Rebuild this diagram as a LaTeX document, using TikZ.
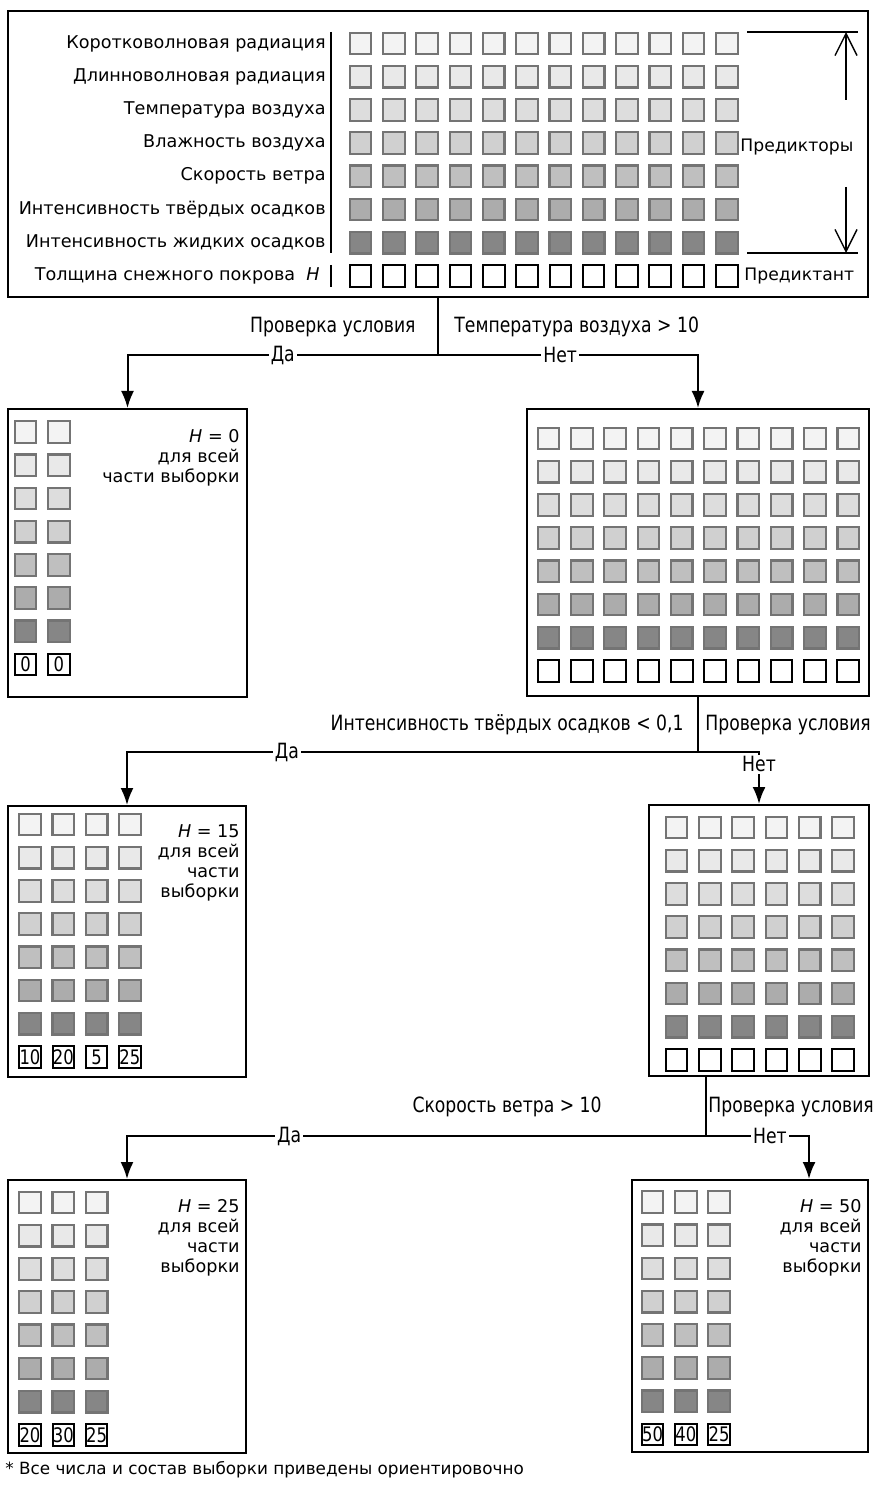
\documentclass[tikz,border=0pt]{standalone}
\usepackage{fontspec}
\setmainfont{DejaVu Sans}
\newfontfamily\condfont{DejaVu Sans}[FakeStretch=0.82]
\usepackage{xcolor}
\usepackage{tikz}
\usetikzlibrary{arrows.meta, positioning, fit, calc}

\definecolor{shade0}{HTML}{F3F3F3}
\definecolor{shade1}{HTML}{E9E9E9}
\definecolor{shade2}{HTML}{DDDDDD}
\definecolor{shade3}{HTML}{D0D0D0}
\definecolor{shade4}{HTML}{BFBFBF}
\definecolor{shade5}{HTML}{ACACAC}
\definecolor{shade6}{HTML}{868686}
\definecolor{rim}{HTML}{747474}

% seven rows of predictor cells: name, x0, y0, columns
\newcommand{\predcells}[4]{%
  \foreach \rowno in {0,...,6}
    \foreach \colno in {1,...,#4}
      \node[cell, fill=shade\rowno] (#1-\rowno-\colno) at ({#2+33.3*(\colno-1)}, {#3+33.2*\rowno}) {};}
% row of the predictand: empty or with values
\newcommand{\emptycells}[4]{%
  \foreach \colno in {1,...,#4}
    \node[valcell] (#1-h-\colno) at ({#2+33.3*(\colno-1)}, {#3+33.2*7}) {};}
\newcommand{\valcells}[4]{%
  \foreach \v [count=\colno] in {#4}
    \node[valcell] (#1-h-\colno) at ({#2+33.3*(\colno-1)}, {#3+33.2*7}) {\v};}

\begin{document}
\begin{tikzpicture}[
    x=0.5pt, y=-0.5pt,
    box/.style={draw, line width=1pt, inner sep=0},
    cell/.style={draw=rim, line width=1.1pt, minimum size=10.8pt, inner sep=0},
    valcell/.style={draw=black, line width=1pt, fill=white, minimum size=10.8pt, inner sep=0, font=\condfont\fontsize{10}{10}\selectfont},
    rowlbl/.style={anchor=east, inner sep=0, font=\fontsize{8.8}{10}\selectfont},
    sidelbl/.style={anchor=west, inner sep=0, font=\fontsize{8.6}{10}\selectfont},
    leaftxt/.style={anchor=north east, align=right, inner sep=0, font=\fontsize{8.8}{10}\selectfont},
    cond/.style={inner sep=0, font=\condfont\fontsize{10.5}{12}\selectfont},
    lbl/.style={fill=white, inner sep=1pt, font=\condfont\fontsize{10.5}{12}\selectfont},
    arrow/.style={line width=1pt, -{Latex[length=8.5pt,width=6.5pt]}},
    dimarrow/.style={line width=0.7pt, -{Straight Barb[length=11pt,width=11pt]}},
    note/.style={anchor=west, inner sep=0, font=\fontsize{8.4}{10}\selectfont}
]
\useasboundingbox (0,0) rectangle (877,1486);

% whole sample
\node[box, fit={(8,11) (868,297)}] (top) {};
\foreach \txt [count=\k from 0] in {Коротковолновая радиация, Длинноволновая радиация, Температура воздуха, Влажность воздуха, Скорость ветра, Интенсивность твёрдых осадков, Интенсивность жидких осадков}
  \node[rowlbl] (lbl\k) at (326, {43.5+33.2*\k}) {\txt};
\node[rowlbl] (lbl7) at (320, 276) {Толщина снежного покрова\ \ \textit{H}};
\draw[line width=1pt] (331,32) -- (331,253);
\draw[line width=1pt] (331,265) -- (331,287);
\predcells{top}{360.5}{43.5}{12}
\emptycells{top}{360.5}{43.5}{12}
\draw[line width=1.2pt] (747,32) -- (858,32);
\draw[line width=1.2pt] (747,253) -- (858,253);
\draw[dimarrow] (846,100) -- (846,32);
\draw[dimarrow] (846,187) -- (846,253);
\node[sidelbl] (pred) at (740,147) {Предикторы};
\node[sidelbl] (target) at (744,276) {Предиктант};

% first split
\node[box, fit={(8,409) (247,697)}] (yes1) {};
\node[box, fit={(527,409) (869,696)}] (no1) {};
\predcells{yes1}{25.5}{432}{2}
\valcells{yes1}{25.5}{432}{0,0}
\node[leaftxt] (h1) at (240,429) {\textit{H} = 0\\для всей\\части выборки};
\predcells{no1}{548.5}{438.5}{10}
\emptycells{no1}{548.5}{438.5}{10}

\coordinate (split1) at (438,355);
\draw[line width=1pt] (top) -- (split1);
\draw[arrow] (split1) -| node[lbl, pos=.25] {Да} (yes1);
\draw[arrow] (split1) -| node[lbl, pos=.235] {Нет} (no1);
\node[cond, anchor=east] (q1a) at (416,327) {Проверка условия};
\node[cond, anchor=west] (q1b) at (454,327) {Температура воздуха > 10};

% second split
\node[box, fit={(8,806) (246,1077)}] (yes2) {};
\node[box, fit={(649,805) (869,1076)}] (no2) {};
\predcells{yes2}{30}{824.5}{4}
\valcells{yes2}{30}{824.5}{10,20,5,25}
\node[leaftxt] (h2) at (240,824) {\textit{H} = 15\\для всей\\части\\выборки};
\predcells{no2}{676.5}{827.5}{6}
\emptycells{no2}{676.5}{827.5}{6}

\coordinate (split2) at (698,752);
\draw[line width=1pt] (no1) -- (split2);
\draw[arrow] (split2) -| node[lbl, pos=.36] {Да} (yes2);
\draw[arrow] (split2) -| node[lbl, pos=.62] {Нет} (no2);
\node[cond, anchor=east] (q2a) at (684,725) {Интенсивность твёрдых осадков < 0,1};
\node[cond, anchor=west] (q2b) at (705,725) {Проверка условия};

% third split
\node[box, fit={(8,1180) (246,1453)}] (yes3) {};
\node[box, fit={(632,1180) (868,1452)}] (no3) {};
\predcells{yes3}{30}{1202.5}{3}
\valcells{yes3}{30}{1202.5}{20,30,25}
\node[leaftxt] (h3) at (240,1199) {\textit{H} = 25\\для всей\\части\\выборки};
\predcells{no3}{652.5}{1202}{3}
\valcells{no3}{652.5}{1202}{50,40,25}
\node[leaftxt] (h4) at (862,1199) {\textit{H} = 50\\для всей\\части\\выборки};

\coordinate (split3) at (706,1136);
\coordinate (in3) at ($(no3.north)+(59,0)$);
\draw[line width=1pt] (no2.south -| split3) -- (split3);
\draw[arrow] (split3) -| node[lbl, pos=.36] {Да} (yes3);
\draw[arrow] (split3) -| node[lbl, pos=.31] {Нет} (in3);
\node[cond, anchor=east] (q3a) at (602,1107) {Скорость ветра > 10};
\node[cond, anchor=west] (q3b) at (708,1107) {Проверка условия};

\node[note] (fn) at (5,1470) {* Все числа и состав выборки приведены ориентировочно};
\end{tikzpicture}
\end{document}
